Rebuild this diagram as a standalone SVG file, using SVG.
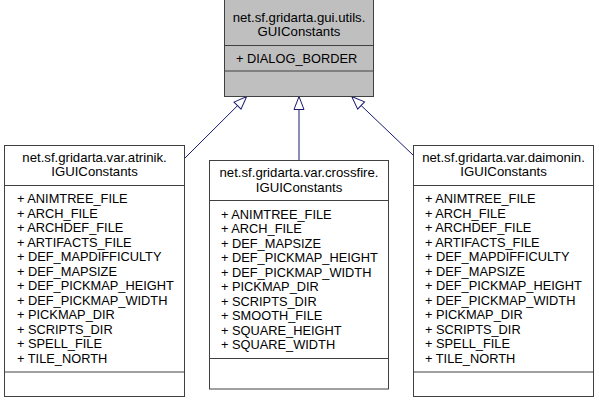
<svg xmlns="http://www.w3.org/2000/svg" width="599" height="404" viewBox="0 0 599 404">
<style>
.box{fill:#ffffff;stroke:#404040;stroke-width:1}
.base{fill:#bfbfbf;stroke:#404040;stroke-width:1}
.div{stroke:#404040;stroke-width:1;fill:none}
text{font-family:"Liberation Sans",Arial,Helvetica,sans-serif;font-size:12.8px;fill:#000000}
.t{text-anchor:middle;font-size:13.2px}
.edge{stroke:#191970;stroke-width:1;fill:none}
</style>
<defs>
<marker id="inh" markerUnits="userSpaceOnUse" markerWidth="15" markerHeight="12" refX="13" refY="5" orient="auto" overflow="visible">
<path d="M0,0 L13,5 L0,10 Z" fill="#ffffff" stroke="#191970" stroke-width="1"/>
</marker>
</defs>
<g id="connectors">
<path class="edge" d="M185,158 L246.7,96.5" marker-end="url(#inh)"/>
<path class="edge" d="M299,160.5 L299,96.5" marker-end="url(#inh)"/>
<path class="edge" d="M413,155 L351.7,96.5" marker-end="url(#inh)"/>
</g>
<g id="node_gui">
<rect class="base" x="224.5" y="-4" width="149" height="100.5"/>
<text class="t" x="299" y="21.5">net.sf.gridarta.gui.utils.</text>
<text class="t" x="299" y="36">GUIConstants</text>
<line class="div" x1="224.5" y1="45.5" x2="373.5" y2="45.5"/>
<text x="236" y="63">+ DIALOG_BORDER</text>
<line class="div" x1="224.5" y1="71" x2="373.5" y2="71"/>
</g>
<g id="node_atrinik">
<rect class="box" x="4.5" y="145.5" width="180" height="251"/>
<text class="t" x="94.5" y="161.5">net.sf.gridarta.var.atrinik.</text>
<text class="t" x="94.5" y="176">IGUIConstants</text>
<line class="div" x1="4.5" y1="185.5" x2="184.5" y2="185.5"/>
<text x="17" y="203">+ ANIMTREE_FILE</text>
<text x="17" y="217.5">+ ARCH_FILE</text>
<text x="17" y="232">+ ARCHDEF_FILE</text>
<text x="17" y="246.5">+ ARTIFACTS_FILE</text>
<text x="17" y="261">+ DEF_MAPDIFFICULTY</text>
<text x="17" y="275.5">+ DEF_MAPSIZE</text>
<text x="17" y="290">+ DEF_PICKMAP_HEIGHT</text>
<text x="17" y="304.5">+ DEF_PICKMAP_WIDTH</text>
<text x="17" y="319">+ PICKMAP_DIR</text>
<text x="17" y="333.5">+ SCRIPTS_DIR</text>
<text x="17" y="348">+ SPELL_FILE</text>
<text x="17" y="362.5">+ TILE_NORTH</text>
<line class="div" x1="4.5" y1="372" x2="184.5" y2="372"/>
</g>
<g id="node_crossfire">
<rect class="box" x="209.5" y="160.5" width="179" height="228.5"/>
<text class="t" x="299" y="177">net.sf.gridarta.var.crossfire.</text>
<text class="t" x="299" y="191.5">IGUIConstants</text>
<line class="div" x1="209.5" y1="200.5" x2="388.5" y2="200.5"/>
<text x="221" y="218.5">+ ANIMTREE_FILE</text>
<text x="221" y="233">+ ARCH_FILE</text>
<text x="221" y="247.5">+ DEF_MAPSIZE</text>
<text x="221" y="262">+ DEF_PICKMAP_HEIGHT</text>
<text x="221" y="276.5">+ DEF_PICKMAP_WIDTH</text>
<text x="221" y="291">+ PICKMAP_DIR</text>
<text x="221" y="305.5">+ SCRIPTS_DIR</text>
<text x="221" y="320">+ SMOOTH_FILE</text>
<text x="221" y="334.5">+ SQUARE_HEIGHT</text>
<text x="221" y="349">+ SQUARE_WIDTH</text>
<line class="div" x1="209.5" y1="358.5" x2="388.5" y2="358.5"/>
</g>
<g id="node_daimonin">
<rect class="box" x="413.5" y="145.5" width="180" height="251"/>
<text class="t" x="503.5" y="161.5">net.sf.gridarta.var.daimonin.</text>
<text class="t" x="503.5" y="176">IGUIConstants</text>
<line class="div" x1="413.5" y1="185.5" x2="593.5" y2="185.5"/>
<text x="425" y="203">+ ANIMTREE_FILE</text>
<text x="425" y="217.5">+ ARCH_FILE</text>
<text x="425" y="232">+ ARCHDEF_FILE</text>
<text x="425" y="246.5">+ ARTIFACTS_FILE</text>
<text x="425" y="261">+ DEF_MAPDIFFICULTY</text>
<text x="425" y="275.5">+ DEF_MAPSIZE</text>
<text x="425" y="290">+ DEF_PICKMAP_HEIGHT</text>
<text x="425" y="304.5">+ DEF_PICKMAP_WIDTH</text>
<text x="425" y="319">+ PICKMAP_DIR</text>
<text x="425" y="333.5">+ SCRIPTS_DIR</text>
<text x="425" y="348">+ SPELL_FILE</text>
<text x="425" y="362.5">+ TILE_NORTH</text>
<line class="div" x1="413.5" y1="372" x2="593.5" y2="372"/>
</g>
</svg>
